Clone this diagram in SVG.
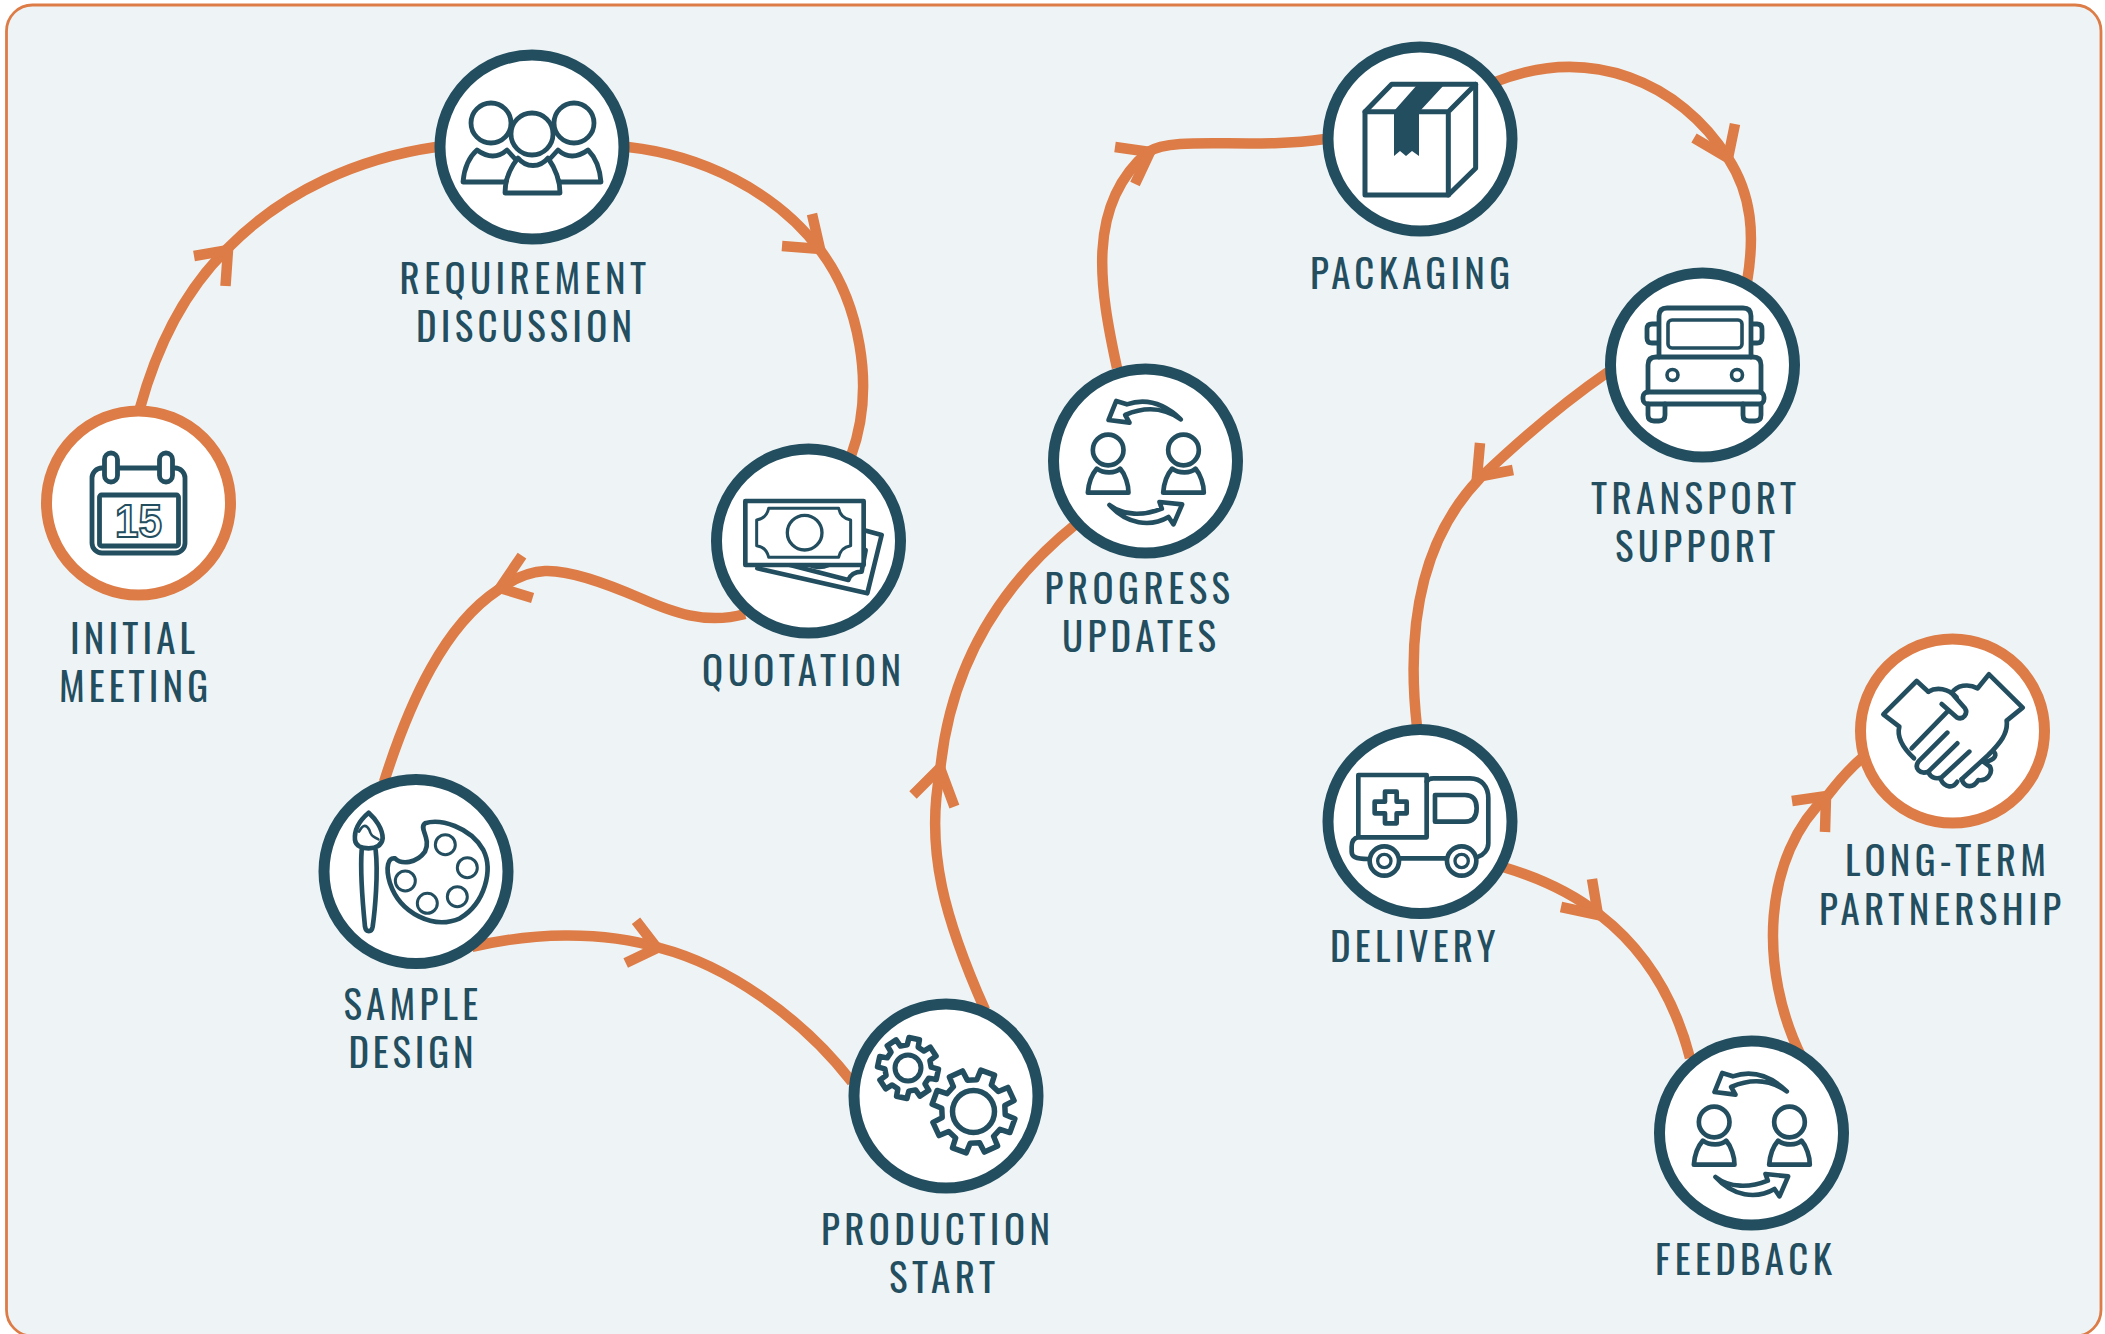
<svg xmlns="http://www.w3.org/2000/svg" xmlns:xlink="http://www.w3.org/1999/xlink" width="2105" height="1334" viewBox="0 0 2105 1334">
<style>
.bg{fill:#eef4f6;stroke:#dd7c46;stroke-width:2.800}
.c{fill:none;stroke:#dd7c46;stroke-width:10.500}
.h{fill:none;stroke:#dd7c46;stroke-width:10.500;stroke-linejoin:miter;stroke-miterlimit:10}
.ring{fill:#fff;stroke:#234e5f;stroke-width:11}
.ringo{fill:#fff;stroke:#dd7c46;stroke-width:11}
.i{fill:none;stroke:#234e5f;stroke-width:4.800;stroke-linejoin:round;stroke-linecap:round}
.iz{fill:none;stroke:#234e5f;stroke-width:14;stroke-linejoin:round;stroke-linecap:round}
.f{fill:#234e5f;stroke:none}
.t{font-family:"Oswald","Liberation Sans Narrow","Liberation Sans",sans-serif;font-size:39px;fill:#234e5f}
.n{font-family:"Liberation Sans",Arial,sans-serif;font-weight:700;font-size:46px;fill:#fff;stroke:#234e5f;stroke-width:2}
</style>
<defs>
<g id="exchange" class="iz" transform="scale(.3333) translate(-346,-363)">
<circle cx="234" cy="327" r="46"/><circle cx="460" cy="327" r="46"/>
<path d="M200,383C220,398 255,398 270,383C285,400 295,430 295,455L173,455C175,430 185,400 200,383Z"/>
<path d="M426,383C446,398 481,398 496,383C511,400 521,430 521,455L399,455C401,430 411,400 426,383Z"/>
<path d="M452,235C410,195 355,168 290,190L258,180L235,237L298,245L285,222C335,200 395,195 452,235Z"/>
<path d="M238,492C280,525 340,525 395,503L388,483L456,490L430,550L415,528C360,560 290,550 238,492Z"/>
</g>
<path id="gear" fill="none" stroke="#234e5f" stroke-width="5.500" stroke-linejoin="round" vector-effect="non-scaling-stroke" d="M73.700,-18.400L98.500,-17.400L98.500,17.400L73.700,18.400L65.100,39.100L81.900,57.400L57.400,81.900L39.100,65.100L18.400,73.700L17.400,98.500L-17.400,98.500L-18.400,73.700L-39.100,65.100L-57.400,81.900L-81.900,57.400L-65.100,39.100L-73.700,18.400L-98.500,17.400L-98.500,-17.400L-73.700,-18.400L-65.100,-39.100L-81.900,-57.400L-57.400,-81.900L-39.100,-65.100L-18.400,-73.700L-17.400,-98.500L17.400,-98.500L18.400,-73.700L39.100,-65.100L57.400,-81.900L81.900,-57.400L65.100,-39.100Z"/>
</defs>
<rect class="bg" x="6.500" y="5" width="2094.500" height="1331" rx="26"/>
<g id="connectors">
<path class="c" d="M140,408C160,335 190,285 228,248C285,190 360,158 436,147"/>
<polyline class="h" points="194,256 228,250 225.500,286"/>
<path class="c" d="M628,147C700,155 775,190 820,250C858,300 877,385 851,456"/>
<polyline class="h" points="782,246 820,249 812,214"/>
<path class="c" d="M745,614C705,625 672,612 640,598C605,583 570,570 545,571C527,572 510,581 498,590C445,625 410,700 384,782"/>
<polyline class="h" points="522,555.600 500,588 532.600,598"/>
<path class="c" d="M472,947C530,933 600,930 660,948C725,965 800,1015 852,1082"/>
<polyline class="h" points="636,920.700 657,948 625.700,963"/>
<path class="c" d="M985,1010C945,920 925,850 940,772C950,665 1000,585 1076,524"/>
<polyline class="h" points="913,795 940,768 954.400,806.700"/>
<path class="c" d="M1117,368C1100,290 1085,205 1148,152C1175,135 1250,150 1325,139"/>
<polyline class="h" points="1115,147 1150,152 1135,184"/>
<path class="c" d="M1495,82C1590,44 1680,82 1728,158C1752,195 1755,235 1747,282"/>
<polyline class="h" points="1694,138 1728,158 1735,124"/>
<path class="c" d="M1608,372C1560,405 1520,440 1480,478C1425,535 1405,620 1417,727"/>
<polyline class="h" points="1480,443 1477,477 1513,470"/>
<path class="c" d="M1503,867C1540,878 1575,895 1600,915C1645,950 1675,1000 1690,1058"/>
<polyline class="h" points="1561,907 1598,915 1592,879"/>
<path class="c" d="M1802,1058C1758,970 1762,855 1828,795C1838,782 1848,770 1862,758"/>
<polyline class="h" points="1792,801 1826,796 1825,832"/>
</g>
<g id="node-initial-meeting">
<circle class="ringo" cx="138.500" cy="503" r="92"/>
<rect class="i" x="92" y="468" width="93" height="85" rx="10"/>
<rect class="i" x="99.500" y="495" width="79" height="51" rx="2"/>
<rect x="104.500" y="453" width="13" height="29" rx="6.500" fill="#fff" stroke="#234e5f" stroke-width="4.800"/>
<rect x="159.500" y="453" width="13" height="29" rx="6.500" fill="#fff" stroke="#234e5f" stroke-width="4.800"/>
<text class="n" x="115" y="537" textLength="47" lengthAdjust="spacingAndGlyphs">15</text>
<text class="t" x="70" y="654" textLength="125">INITIAL</text>
<text class="t" x="59" y="702" textLength="149">MEETING</text>
</g>
<g id="node-requirement-discussion">
<circle class="ring" cx="532" cy="147" r="92"/>
<g class="i">
<circle cx="491" cy="123" r="20"/><circle cx="574" cy="123" r="20"/>
<path d="M477,150C488,158 498,158 507,150L518,162C512,168 508,176 506,182L463,182C464,170 468,158 477,150Z"/>
<path d="M588,150C577,158 567,158 558,150L547,162C553,168 557,176 559,182L601,182C600,170 596,158 588,150Z"/>
<circle cx="532" cy="134" r="21" fill="#fff"/>
<path d="M518,158C526,168 540,168 548,158C555,168 560,180 560,193L505,193C505,180 510,168 518,158Z" fill="#fff"/>
</g>
<text class="t" x="399.500" y="294" textLength="246.500">REQUIREMENT</text>
<text class="t" x="416" y="342" textLength="216">DISCUSSION</text>
</g>
<g id="node-quotation">
<circle class="ring" cx="808.500" cy="541" r="92"/>
<g class="iz" transform="translate(700,430) scale(.3333)">
<path d="M490,300L545,315L502,490L172,415"/>
<path d="M497,360L485,425C465,425 450,435 445,450L250,400"/>
<path d="M330,408C345,415 370,415 385,408" stroke-width="9"/>
<rect x="136" y="213" width="355" height="192" fill="#fff"/>
<path d="M206,235L416,235C420,255 432,267 452,270L452,347C432,350 420,362 416,382L206,382C202,362 190,350 170,347L170,270C190,267 202,255 206,235Z" stroke-width="9"/>
<circle cx="314" cy="308" r="52" stroke-width="10"/>
</g>
<text class="t" x="702" y="686" textLength="199">QUOTATION</text>
</g>
<g id="node-sample-design">
<circle class="ring" cx="416" cy="871.500" r="92"/>
<g class="iz" transform="translate(310,770) scale(.3333)">
<path d="M176,128C150,150 132,180 135,210C137,230 160,235 176,235C195,235 215,228 218,205C218,175 195,145 176,128Z"/>
<path d="M147,185C160,160 170,165 178,180C185,205 195,200 205,208" stroke-width="8"/>
<path d="M155,240C150,310 160,420 165,470C168,488 185,488 188,470C195,420 205,310 197,240"/>
<path d="M345,160C390,145 480,170 520,240C550,300 525,400 450,445C370,480 270,430 240,340C225,290 235,262 255,265C275,285 320,280 345,245C365,205 325,175 345,160Z"/>
<circle cx="406" cy="224" r="30" stroke-width="9"/><circle cx="472" cy="293" r="30" stroke-width="9"/><circle cx="442" cy="380" r="30" stroke-width="9"/><circle cx="352" cy="400" r="30" stroke-width="9"/><circle cx="286" cy="333" r="30" stroke-width="9"/>
</g>
<text class="t" x="343.500" y="1020" textLength="134.500">SAMPLE</text>
<text class="t" x="348.500" y="1068" textLength="125">DESIGN</text>
</g>
<g id="node-production-start">
<circle class="ring" cx="946" cy="1096" r="92"/>
<use xlink:href="#gear" href="#gear" transform="translate(908,1068) rotate(12) scale(.305)"/>
<circle class="i" cx="908" cy="1068" r="13" style="stroke-width:5"/>
<use xlink:href="#gear" href="#gear" transform="translate(973.500,1111.500) rotate(20) scale(.42)"/>
<circle class="i" cx="973.500" cy="1111.500" r="21" style="stroke-width:5.500"/>
<text class="t" x="821" y="1245" textLength="229">PRODUCTION</text>
<text class="t" x="889" y="1293" textLength="106">START</text>
</g>
<g id="node-progress-updates">
<circle class="ring" cx="1145.500" cy="461" r="92"/>
<use xlink:href="#exchange" href="#exchange" transform="translate(1145.500,462)"/>
<text class="t" x="1044.500" y="604" textLength="185.500">PROGRESS</text>
<text class="t" x="1062" y="652" textLength="154">UPDATES</text>
</g>
<g id="node-packaging">
<circle class="ring" cx="1420" cy="139" r="92"/>
<g class="iz" transform="translate(1300,30) scale(.3333)" style="stroke-width:15">
<path d="M195,245L275,163L527,163L527,415L445,495L195,495Z"/>
<path d="M195,245L445,245L445,495M445,245L527,163"/>
</g>
<path class="f" d="M1417,85L1444,85L1420,111L1419,111L1419,156L1412,151L1406,156L1400,151L1394,156L1394,111Z"/>
<text class="t" x="1310" y="289" textLength="200">PACKAGING</text>
</g>
<g id="node-transport-support">
<circle class="ring" cx="1702.500" cy="365" r="92"/>
<g class="i">
<path d="M1659,357L1659,316Q1659,308 1667,308L1743,308Q1751,308 1751,316L1751,357"/>
<rect x="1668" y="320" width="74" height="28" rx="4" style="stroke-width:3.600"/>
<path d="M1657,324L1652,324Q1647,324 1647,329L1647,338Q1647,343 1652,343L1657,343"/>
<path d="M1752,324L1757,324Q1762,324 1762,329L1762,338Q1762,343 1757,343L1752,343"/>
<path d="M1648,392L1648,365Q1648,357 1656,357L1753,357Q1761,357 1761,365L1761,392"/>
<rect x="1643" y="392" width="121" height="12" rx="5"/>
<path d="M1648,404L1648,415Q1648,421 1654,421L1659,421Q1665,421 1665,415L1665,404"/>
<path d="M1743,404L1743,415Q1743,421 1749,421L1755,421Q1761,421 1761,415L1761,404"/>
<circle cx="1672.500" cy="375" r="5.500" style="stroke-width:3.600"/><circle cx="1737" cy="375" r="5.500" style="stroke-width:3.600"/>
</g>
<text class="t" x="1591" y="514" textLength="205">TRANSPORT</text>
<text class="t" x="1615" y="562" textLength="160">SUPPORT</text>
</g>
<g id="node-delivery">
<circle class="ring" cx="1420" cy="821.500" r="92"/>
<g class="iz" transform="translate(1300,710) scale(.3333)">
<path d="M175,382L175,195L380,195L380,382L175,382C160,385 155,395 155,410L155,425C155,440 165,447 205,447"/>
<path d="M380,215Q385,205 400,205L510,205C545,205 565,230 565,265L565,400C565,420 550,435 535,440"/>
<path d="M300,445L437,445"/>
<path d="M405,255L495,255C520,255 530,270 530,295C530,320 520,335 495,335L405,335Z"/>
<path d="M255,245L290,245L290,275L320,275L320,310L290,310L290,340L255,340L255,310L224,310L224,275L255,275Z"/>
<circle cx="253" cy="453" r="44"/><circle cx="253" cy="453" r="20" style="stroke-width:10"/>
<circle cx="485" cy="453" r="44"/><circle cx="485" cy="453" r="20" style="stroke-width:10"/>
</g>
<text class="t" x="1330" y="962" textLength="165.500">DELIVERY</text>
</g>
<g id="node-feedback">
<circle class="ring" cx="1751.500" cy="1133" r="92"/>
<use xlink:href="#exchange" href="#exchange" transform="translate(1751.500,1134)"/>
<text class="t" x="1655" y="1275" textLength="177">FEEDBACK</text>
</g>
<g id="node-long-term-partnership">
<circle class="ringo" cx="1952.500" cy="731" r="92"/>
<g class="iz" transform="translate(1840,620) scale(.3333)">
<path d="M265,215L230,183L130,283L178,320C170,350 190,385 222,415"/>
<path d="M265,215C290,200 325,205 350,232"/>
<path d="M335,220C350,195 385,190 413,205L447,163L548,263L500,302C505,340 480,370 445,405L365,478"/>
<path d="M305,252L350,292C370,302 385,280 375,265L340,225"/>
<path d="M325,272L215,385"/>
<path d="M322,338L235,425C222,445 240,465 265,455L352,370"/>
<path d="M265,455C270,470 285,480 305,472L388,395"/>
<path d="M302,478C315,505 340,505 352,485"/>
<path d="M365,478C375,505 400,505 415,480C440,485 460,460 450,440L430,425"/>
<path d="M430,425C455,425 475,410 462,395"/>
</g>
<text class="t" x="1845" y="876" textLength="201">LONG-TERM</text>
<text class="t" x="1819" y="925" textLength="242">PARTNERSHIP</text>
</g>
</svg>
